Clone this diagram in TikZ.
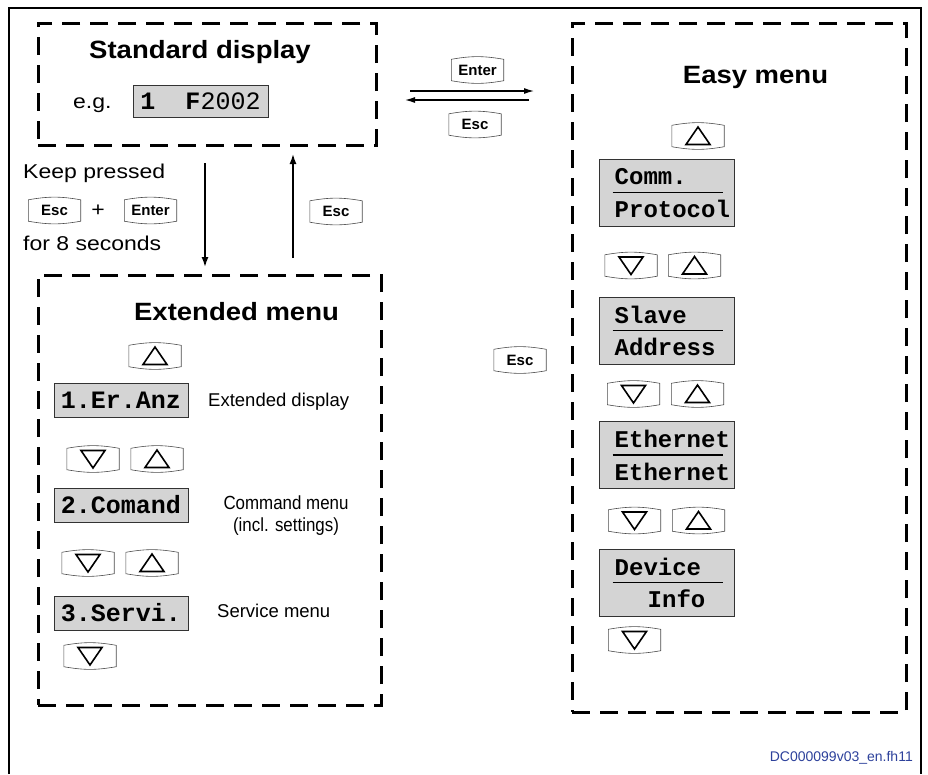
\documentclass[tikz,border=0pt]{standalone}
\usepackage{fontspec}
\setmainfont{Liberation Sans}
\newfontfamily\widefont[FakeStretch=1.15]{Liberation Sans}
\newfontfamily\headfont[FakeStretch=1.1]{Liberation Sans}
\newfontfamily\narrowfont[FakeStretch=0.89]{Liberation Sans}
\newfontfamily\lcdfont{Liberation Mono}
\usetikzlibrary{arrows.meta}
\definecolor{tagblue}{RGB}{45,65,155}

\tikzset{
  frameline/.style={line width=2pt},
  dashbox/.style={draw, line width=3pt, dash pattern=on 18pt off 10pt, inner sep=0pt, outer sep=0pt},
  headline/.style={font=\headfont\bfseries\fontsize{25}{29}\selectfont, inner sep=0pt},
  plaintext/.style={font=\widefont\fontsize{20}{24}\selectfont, inner sep=0pt},
  hint/.style={font=\fontsize{18.5}{22}\selectfont, inner sep=0pt},
  squeezed/.style={font=\narrowfont\fontsize{19}{22}\selectfont, inner sep=0pt},
  lcd/.style={draw=black!80, fill=black!17, line width=1pt, inner sep=0pt, minimum width=134pt, minimum height=34pt,
    font=\lcdfont\bfseries\fontsize{25}{25}\selectfont},
  lcdtwo/.style={lcd, minimum width=135pt, minimum height=67pt},
  lcdrow/.style={font=\lcdfont\bfseries\fontsize{24}{24}\selectfont, anchor=west, inner sep=0pt},
  lcdsep/.style={line width=1.8pt},
  button/.style={minimum width=52pt, minimum height=21pt, inner sep=0pt, font=\bfseries\fontsize{15}{15}\selectfont,
    append after command={\pgfextra{\draw[black!70, line width=0.6pt]
      (\tikzlastnode.north west) to[bend left=10] (\tikzlastnode.north east) --
      (\tikzlastnode.south east) to[bend left=10] (\tikzlastnode.south west) -- cycle;}}},
  upbutton/.style={button, append after command={\pgfextra{\draw[line width=1.6pt]
      ([shift={(0pt,9pt)}]\tikzlastnode.center) -- ([shift={(12pt,-8.5pt)}]\tikzlastnode.center) --
      ([shift={(-12pt,-8.5pt)}]\tikzlastnode.center) -- cycle;}}},
  downbutton/.style={button, append after command={\pgfextra{\draw[line width=1.6pt]
      ([shift={(0pt,-9pt)}]\tikzlastnode.center) -- ([shift={(12pt,8.5pt)}]\tikzlastnode.center) --
      ([shift={(-12pt,8.5pt)}]\tikzlastnode.center) -- cycle;}}},
  arr/.style={-{Latex[length=10pt,width=7pt]}, line width=1.5pt},
  thinarr/.style={-{Latex[length=10pt,width=6pt]}, line width=1.2pt},
  figtag/.style={font=\fontsize{14}{14}\selectfont, text=tagblue, inner sep=0pt},
}

\begin{document}
\begin{tikzpicture}[x=1pt,y=-1pt]
  \useasboundingbox (0,0) rectangle (928,774);
  % outer frame, open at the bottom
  \draw[frameline] (9,774) -- (9,8) -- (921,8) -- (921,774);

  % standard display
  \node[dashbox, minimum width=338pt, minimum height=122pt] (std) at (207,84) {};
  \node[headline, anchor=base] (stdtitle) at (200,58.5) {Standard display};
  \node[plaintext, anchor=base west] (eg) at (73,108) {e.g.};
  \node[lcd, minimum width=135pt, minimum height=32pt] (stdlcd) at (200.5,101) {1~~F{\mdseries 2002}};

  % way down and back
  \node[plaintext, anchor=base west] (keep) at (23,178) {Keep pressed};
  \node[button] (escA) at (54.5,210.5) {Esc};
  \node[plaintext] (plus) at (98,211) {+};
  \node[button] (enterA) at (150.5,210.5) {Enter};
  \node[plaintext, anchor=base west] (secs) at (23,250.5) {for 8 seconds};
  \node[button] (escB) at (336,211.5) {Esc};

  % extended menu
  \node[dashbox, minimum width=343pt, minimum height=430pt] (ext) at (209.5,490) {};
  \node[headline, anchor=base] (exttitle) at (236.5,320) {Extended menu};
  \node[upbutton] (extup0) at (155,356) {};
  \node[lcd] (erranz) at (121,400) {1.Er.Anz};
  \node[hint, anchor=base west] (erranztxt) at (208,406.5) {Extended display};
  \node[downbutton] (extdn1) at (93,459) {};
  \node[upbutton] (extup1) at (157,459) {};
  \node[lcd] (comand) at (121,505) {2.Comand};
  \node[squeezed, anchor=base] (comandtxt) at (286,509) {Command menu};
  \node[squeezed, anchor=base] (comandsub) at (286,531) {(incl. settings)};
  \node[downbutton] (extdn2) at (88,563) {};
  \node[upbutton] (extup2) at (152,563) {};
  \node[lcd] (servi) at (121,613) {3.Servi.};
  \node[hint, anchor=base west] (servitxt) at (217,617) {Service menu};
  \node[downbutton] (extdn3) at (90,656) {};

  \draw[arr] ([shift={(-2pt,-18pt)}]std.south) -- ([shift={(-4.5pt,8pt)}]ext.north);
  \draw[arr] ([shift={(83.5pt,17pt)}]ext.north) -- ([shift={(86pt,-9pt)}]std.south);

  % easy menu
  \node[dashbox, minimum width=334pt, minimum height=689pt] (easy) at (739,367.5) {};
  \node[headline, anchor=base] (easytitle) at (755.5,83) {Easy menu};
  \node[button] (enterB) at (477.5,70) {Enter};
  \node[button] (escC) at (475,124.5) {Esc};
  \draw[thinarr] ([shift={(34pt,-7pt)}]std.east) -- ([shift={(-38pt,-68pt)}]easy.north west);
  \draw[thinarr] ([shift={(-43pt,-77pt)}]easy.north west) -- ([shift={(29pt,-16pt)}]std.east);
  \node[button] (escD) at (520,360) {Esc};

  \node[upbutton] (easyup0) at (698,136) {};
  \foreach \nm/\y/\rowa/\rowb/\dx in {comm/192.5/Comm./Protocol/0pt, slave/330.5/Slave/Address/0pt,
      eth/455/Ethernet/Ethernet/0pt, dev/582.5/Device/Info/33pt} {
    \node[lcdtwo] (\nm) at (666.5,\y) {};
    \node[lcdrow] (\nm A) at ([shift={(16pt,16pt)}]\nm.west) {\rowa};
    \node[lcdrow] (\nm B) at ([shift={(16pt+\dx,-16.5pt)}]\nm.west) {\rowb};
    \draw[lcdsep] ([xshift=14pt]\nm.west) -- ([xshift=-12pt]\nm.east);
  }
  \node[downbutton] (easydn1) at (631,265.5) {};
  \node[upbutton] (easyup1) at (694.5,265.5) {};
  \node[downbutton] (easydn2) at (633.5,394) {};
  \node[upbutton] (easyup2) at (697.5,394) {};
  \node[downbutton] (easydn3) at (634.5,520.5) {};
  \node[upbutton] (easyup3) at (698.5,520.5) {};
  \node[downbutton] (easydn4) at (634.5,640) {};

  \node[figtag, anchor=base east] (figid) at (913,761) {DC000099v03\_en.fh11};
\end{tikzpicture}
\end{document}
